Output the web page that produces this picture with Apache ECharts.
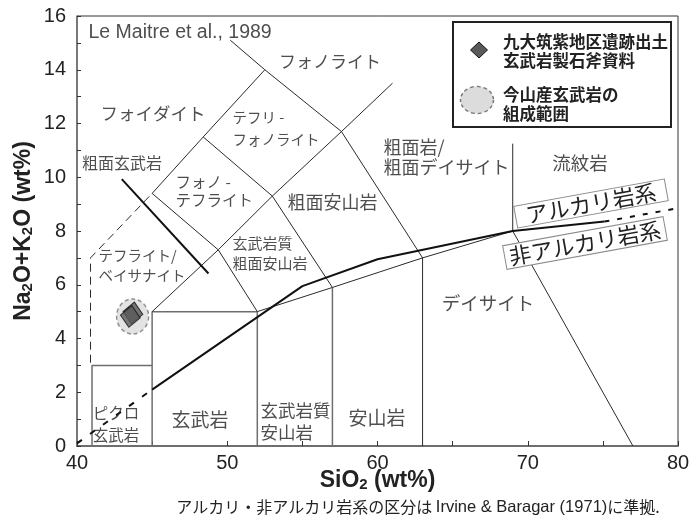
<!DOCTYPE html>
<html>
<head>
<meta charset="utf-8">
<script src="https://cdn.jsdelivr.net/npm/echarts@6/dist/echarts.min.js"></script>
<style>
  html, body { margin: 0; padding: 0; background: #fff; }
  #tas { width: 699px; height: 519px; }
</style>
</head>
<body>
<div id="tas"></div>
<script>
// --- data ---
var xTicks = [40, 50, 60, 70, 80];
var yTicks = [0, 2, 4, 6, 8, 10, 12, 14, 16];

// 九大筑紫地区遺跡出土 玄武岩製石斧資料
var axePoints = [[43.72, 4.95], [43.55, 4.82]];
// 今山産玄武岩の組成範囲 (center)
var imayamaCenter = [[43.7, 4.82]];

// field boundaries, Le Maitre et al. (1989)
var grayLines = [
    [[41, 0], [41, 3], [45, 3]],
    [[45, 0], [45, 5], [52, 5], [52, 0]],
    [[57, 0], [57, 5.9]]
];
var thinLines = [
    [[52, 5], [57, 5.9], [63, 7], [69, 8], [77, 0]],
    [[63, 0], [63, 7]],
    [[69, 8], [69, 11.25]],
    [[45, 5], [49.4, 7.3], [52, 5]],
    [[49.4, 7.3], [53, 9.3], [57, 5.9]],
    [[53, 9.3], [57.6, 11.7], [63, 7]],
    [[57.6, 11.7], [61, 13.5]],
    [[45, 9.4], [49.4, 7.3]],
    [[45, 9.4], [48.4, 11.5], [53, 9.3]],
    [[48.4, 11.5], [52.5, 14], [57.6, 11.7]],
    [[52.5, 14], [50.2, 15.1]]
];
var dashedLines = [
    [[40.9, 3.1], [40.9, 7], [45, 9.4]]
];
// Irvine & Baragar (1971) alkaline / subalkaline divide
var alkaliLine = [[45, 2.1], [55, 5.95], [60, 6.95], [69, 8.0], [75.1, 8.35]];
var alkaliDashed = [
    [[40, 0.1], [45, 2.1]],
    [[75.1, 8.35], [80, 8.85]]
];
var trachybasaltPointer = [[42.98, 9.93], [48.75, 6.42]];

var fieldNames = [
    'フォノライト', 'フォイダイト', 'テフリ -\nフォノライト', '粗面玄武岩',
    'フォノ -\nテフライト', '粗面安山岩', '玄武岩質\n粗面安山岩',
    'テフライト/\nベイサナイト', 'ピクロ\n玄武岩', '玄武岩', '玄武岩質\n安山岩',
    '安山岩', 'デイサイト', '粗面岩/\n粗面デイサイト', '流紋岩',
    'Le Maitre et al., 1989'
];

// --- layout of the field names: [x, y, fontSize, align, lineHeight] ---
var labelLayout = [
    [56.84, 14.29, 17, 'center', 20],
    [45.06, 12.39, 17.5, 'center', 20],
    [50.32, 11.80, 14.5, 'left', 22],
    [43.0, 10.53, 16, 'center', 20],
    [46.52, 9.49, 15.5, 'left', 18],
    [53.98, 9.08, 18, 'left', 20],
    [50.32, 7.18, 15, 'left', 20],
    [41.40, 6.73, 14.5, 'left', 20],
    [42.6, 0.82, 15.5, 'center', 22],
    [48.19, 0.97, 19, 'center', 22],
    [52.18, 0.93, 17.5, 'left', 22],
    [59.97, 1.04, 19, 'center', 22],
    [67.35, 5.32, 18.5, 'center', 22],
    [60.37, 10.75, 18, 'left', 20],
    [73.48, 10.53, 18.5, 'center', 22],
    [40.73, 15.40, 19.5, 'left', 20]
];

var JP = '"Noto Sans CJK JP", sans-serif';
var LAT = '"Liberation Sans", Arial, sans-serif';

function lineSeries(path, style, z) {
    return {
        type: 'line',
        data: path,
        showSymbol: false,
        symbol: 'none',
        silent: true,
        animation: false,
        z: z,
        lineStyle: style
    };
}

var series = [];
grayLines.forEach(function (p) {
    series.push(lineSeries(p, { color: '#6e6e6e', width: 1.5 }, 2));
});
thinLines.forEach(function (p) {
    series.push(lineSeries(p, { color: '#2a2a2a', width: 1 }, 2));
});
dashedLines.forEach(function (p) {
    series.push(lineSeries(p, { color: '#2a2a2a', width: 1, type: [8, 5] }, 2));
});
series.push(lineSeries(alkaliLine, { color: '#111', width: 2 }, 3));
series.push(lineSeries(alkaliDashed[0], { color: '#111', width: 2, type: [6, 10] }, 3));
series.push(lineSeries(alkaliDashed[1], { color: '#111', width: 2, type: [5, 8] }, 3));
series.push(lineSeries(trachybasaltPointer, { color: '#111', width: 2 }, 3));

series.push({
    type: 'scatter',
    data: imayamaCenter,
    symbol: 'circle',
    symbolSize: [32, 35],
    silent: true,
    z: 4,
    itemStyle: { color: '#dcdcdc', borderColor: '#777', borderWidth: 1.5, borderType: [4, 3] }
});
series.push({
    type: 'scatter',
    data: axePoints,
    symbol: 'diamond',
    symbolSize: [20, 22],
    symbolRotate: -8,
    silent: true,
    z: 5,
    itemStyle: { color: '#595959', borderColor: '#111', borderWidth: 1 }
});

var labelData = fieldNames.map(function (name, i) {
    var l = labelLayout[i];
    var latin = i === fieldNames.length - 1;
    return {
        value: [l[0], l[1]],
        label: {
            show: true,
            formatter: name,
            position: l[3] === 'left' ? 'right' : 'inside',
            distance: 0,
            align: l[3],
            verticalAlign: 'middle',
            fontSize: l[2],
            lineHeight: l[4],
            color: '#222',
            fontFamily: latin ? LAT : JP
        }
    };
});
series.push({
    type: 'scatter',
    data: labelData,
    symbolSize: 1,
    silent: true,
    z: 6,
    itemStyle: { color: 'rgba(0,0,0,0)' }
});

var dom = document.getElementById('tas');
var chart = echarts.init(dom, null, { renderer: 'canvas' });

var nameRich = { s: { fontSize: 15, fontWeight: 'bold', fontFamily: LAT, color: '#222', verticalAlign: 'bottom', padding: [7, 0, 0, 0] } };

var option = {
    backgroundColor: '#fff',
    animation: false,
    grid: {
        left: 77, right: 21, top: 16, bottom: 73,
        show: true, borderColor: '#333', borderWidth: 1,
        outerBoundsMode: 'none'
    },
    xAxis: {
        type: 'value',
        min: 40, max: 80, interval: 5,
        name: 'SiO{s|2} (wt%)',
        nameLocation: 'middle',
        nameGap: 23,
        nameMoveOverlap: false,
        nameTextStyle: { fontSize: 23, fontWeight: 'bold', color: '#222', fontFamily: LAT, rich: nameRich },
        axisLine: { lineStyle: { color: '#6e6e6e', width: 2 } },
        axisTick: { inside: true, length: 5, lineStyle: { color: '#333' } },
        splitLine: { show: false },
        axisLabel: {
            fontSize: 20, color: '#222', fontFamily: LAT, margin: 7,
            formatter: function (v) { return xTicks.indexOf(v) >= 0 ? String(v) : ''; }
        }
    },
    yAxis: {
        type: 'value',
        min: 0, max: 16, interval: 1,
        name: 'Na{s|2}O+K{s|2}O (wt%)',
        nameLocation: 'middle',
        nameGap: 42,
        nameMoveOverlap: false,
        nameTextStyle: { fontSize: 23, fontWeight: 'bold', color: '#222', fontFamily: LAT, rich: nameRich },
        axisLine: { lineStyle: { color: '#6e6e6e', width: 1.5 } },
        axisTick: { inside: true, length: 4, lineStyle: { color: '#333' } },
        splitLine: { show: false },
        axisLabel: {
            fontSize: 20, color: '#222', fontFamily: LAT, margin: 11,
            formatter: function (v) { return yTicks.indexOf(v) >= 0 ? String(v) : ''; }
        }
    },
    graphic: [
        // legend box
        { type: 'rect', z: 100, shape: { x: 453, y: 22, width: 218, height: 105 },
          style: { fill: '#fff', stroke: '#222', lineWidth: 2 } },
        { type: 'polygon', z: 101, shape: { points: [[479, 42], [487.5, 50], [479, 58], [470.5, 50]] },
          style: { fill: '#595959', stroke: '#111', lineWidth: 1 } },
        { type: 'text', z: 101, x: 503, y: 51,
          style: { text: '九大筑紫地区遺跡出土\n玄武岩製石斧資料', fontSize: 16.5, fontWeight: 'bold',
                   fontFamily: JP, fill: '#222', lineHeight: 19, verticalAlign: 'middle', align: 'left' } },
        { type: 'circle', z: 101, x: 477, y: 100, scaleY: 0.82,
          shape: { cx: 0, cy: 0, r: 16.5 },
          style: { fill: '#dcdcdc', stroke: '#777', lineWidth: 1.5, lineDash: [4, 3] } },
        { type: 'text', z: 101, x: 503, y: 104,
          style: { text: '今山産玄武岩の\n組成範囲', fontSize: 16.5, fontWeight: 'bold',
                   fontFamily: JP, fill: '#222', lineHeight: 19, verticalAlign: 'middle', align: 'left' } },
        // alkaline / subalkaline tags
        { type: 'group', z: 100, x: 591, y: 203.5, rotation: 10.3 * Math.PI / 180,
          children: [
            { type: 'rect', z: 100, shape: { x: -76.5, y: -11, width: 153, height: 22 },
              style: { fill: '#fff', stroke: '#8a8a8a', lineWidth: 1 } },
            { type: 'text', z: 101, x: 0, y: 0,
              style: { text: 'アルカリ岩系', fontSize: 22, fontFamily: JP, fill: '#222',
                       align: 'center', verticalAlign: 'middle' } }
          ] },
        { type: 'group', z: 100, x: 585, y: 243, rotation: 10.3 * Math.PI / 180,
          children: [
            { type: 'rect', z: 100, shape: { x: -81.5, y: -12, width: 163, height: 24 },
              style: { fill: '#fff', stroke: '#8a8a8a', lineWidth: 1 } },
            { type: 'text', z: 101, x: 0, y: 0,
              style: { text: '非アルカリ岩系', fontSize: 22, fontFamily: JP, fill: '#222',
                       align: 'center', verticalAlign: 'middle' } }
          ] },
        // footnote
        { type: 'text', z: 100, x: 418, y: 507,
          style: { text: 'アルカリ・非アルカリ岩系の区分は {l|Irvine & Baragar (1971)}に準拠.',
                   fontSize: 16, fontFamily: JP, fill: '#222', align: 'center', verticalAlign: 'middle',
                   rich: { l: { fontSize: 16.5, fontFamily: LAT, fill: '#222' } } } }
    ],
    series: series
};

if (option && typeof option === "object") {
    chart.setOption(option, true);
}
</script>
</body>
</html>
